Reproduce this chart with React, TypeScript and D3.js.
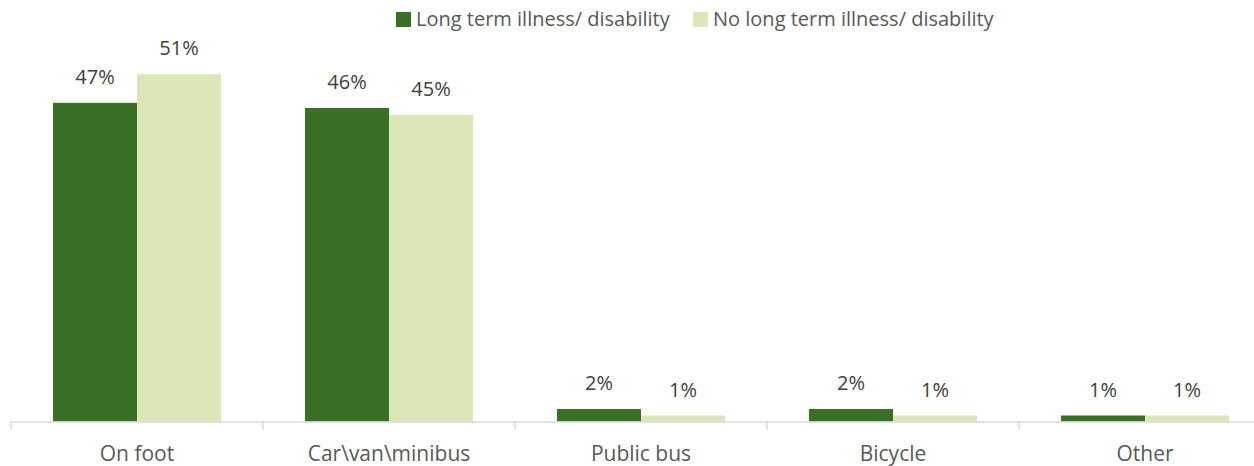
import React, { useEffect, useRef } from "react";
import * as d3 from "d3";

const categories = ["On foot", "Car\\van\\minibus", "Public bus", "Bicycle", "Other"];
const seriesNames = ["Long term illness/ disability", "No long term illness/ disability"];
const withIllness = [46.8, 46.05, 1.84, 1.84, 0.88];
const withoutIllness = [51, 45, 0.88, 0.88, 0.88];
const colors = ["#3a6f26", "#dbe7b8"];

const W = 1254;
const H = 466;

export default function App() {
  const ref = useRef<SVGSVGElement | null>(null);

  useEffect(() => {
    const svg = d3.select(ref.current);
    svg.selectAll("*").remove();
    const font = "'Open Sans', sans-serif";

    const x0 = d3.scaleBand<string>().domain(categories).range([11, 1271]).paddingInner(0).paddingOuter(0);
    const x1 = d3.scaleBand<string>().domain(seriesNames).range([0, x0.bandwidth()]).paddingInner(0).paddingOuter(0.5);
    const y = d3.scaleLinear().domain([0, 60]).range([421.5, 13]);

    const data = categories.map((c, i) => ({
      cat: c,
      vals: [
        { s: seriesNames[0], v: withIllness[i], color: colors[0] },
        { s: seriesNames[1], v: withoutIllness[i], color: colors[1] },
      ],
    }));

    const g = svg.append("g");
    const groups = g.selectAll("g.cat").data(data).enter().append("g")
      .attr("transform", (d) => `translate(${x0(d.cat)},0)`);

    groups.selectAll("rect").data((d) => d.vals).enter().append("rect")
      .attr("x", (d) => x1(d.s)!)
      .attr("width", x1.bandwidth())
      .attr("y", (d) => y(d.v))
      .attr("height", (d) => y(0) - y(d.v))
      .attr("fill", (d) => d.color);

    groups.selectAll("text.lbl").data((d) => d.vals).enter().append("text")
      .attr("x", (d) => x1(d.s)! + x1.bandwidth() / 2)
      .attr("y", (d) => y(d.v) - 19)
      .attr("text-anchor", "middle")
      .attr("font-family", font)
      .attr("font-size", 20)
      .attr("fill", "#404040")
      .text((d) => `${Math.round(d.v)}%`);

    // axis
    const axis = d3.axisBottom(x0).tickSize(0).tickFormat(() => "");
    const ax = svg.append("g").attr("transform", `translate(0,${y(0)})`).call(axis);
    ax.select(".domain").attr("stroke", "#d9d9d9").attr("stroke-width", 1.5);

    const tickPositions = categories.map((c) => x0(c)!).concat([x0.range()[1]]);
    svg.append("g").selectAll("line").data(tickPositions).enter().append("line")
      .attr("x1", (d) => d).attr("x2", (d) => d)
      .attr("y1", y(0)).attr("y2", y(0) + 8)
      .attr("stroke", "#d9d9d9").attr("stroke-width", 1.5);

    svg.append("g").selectAll("text").data(categories).enter().append("text")
      .attr("x", (d) => x0(d)! + x0.bandwidth() / 2)
      .attr("y", 461)
      .attr("text-anchor", "middle")
      .attr("font-family", font)
      .attr("font-size", 21)
      .attr("fill", "#595959")
      .text((d) => d);

    // legend
    const legendX = [396, 693];
    const lg = svg.append("g").selectAll("g").data(seriesNames).enter().append("g")
      .attr("transform", (_d, i) => `translate(${legendX[i]},0)`);
    lg.append("rect").attr("x", 0).attr("y", 12).attr("width", 15).attr("height", 15)
      .attr("fill", (_d, i) => colors[i]);
    lg.append("text").attr("x", 20).attr("y", 26)
      .attr("font-family", font).attr("font-size", 20).attr("fill", "#595959")
      .text((d) => d);
  }, []);

  return (
    <svg
      ref={ref}
      width={W}
      height={H}
      style={{ position: "absolute", left: 0, top: 0, background: "#fff" }}
    />
  );
}
